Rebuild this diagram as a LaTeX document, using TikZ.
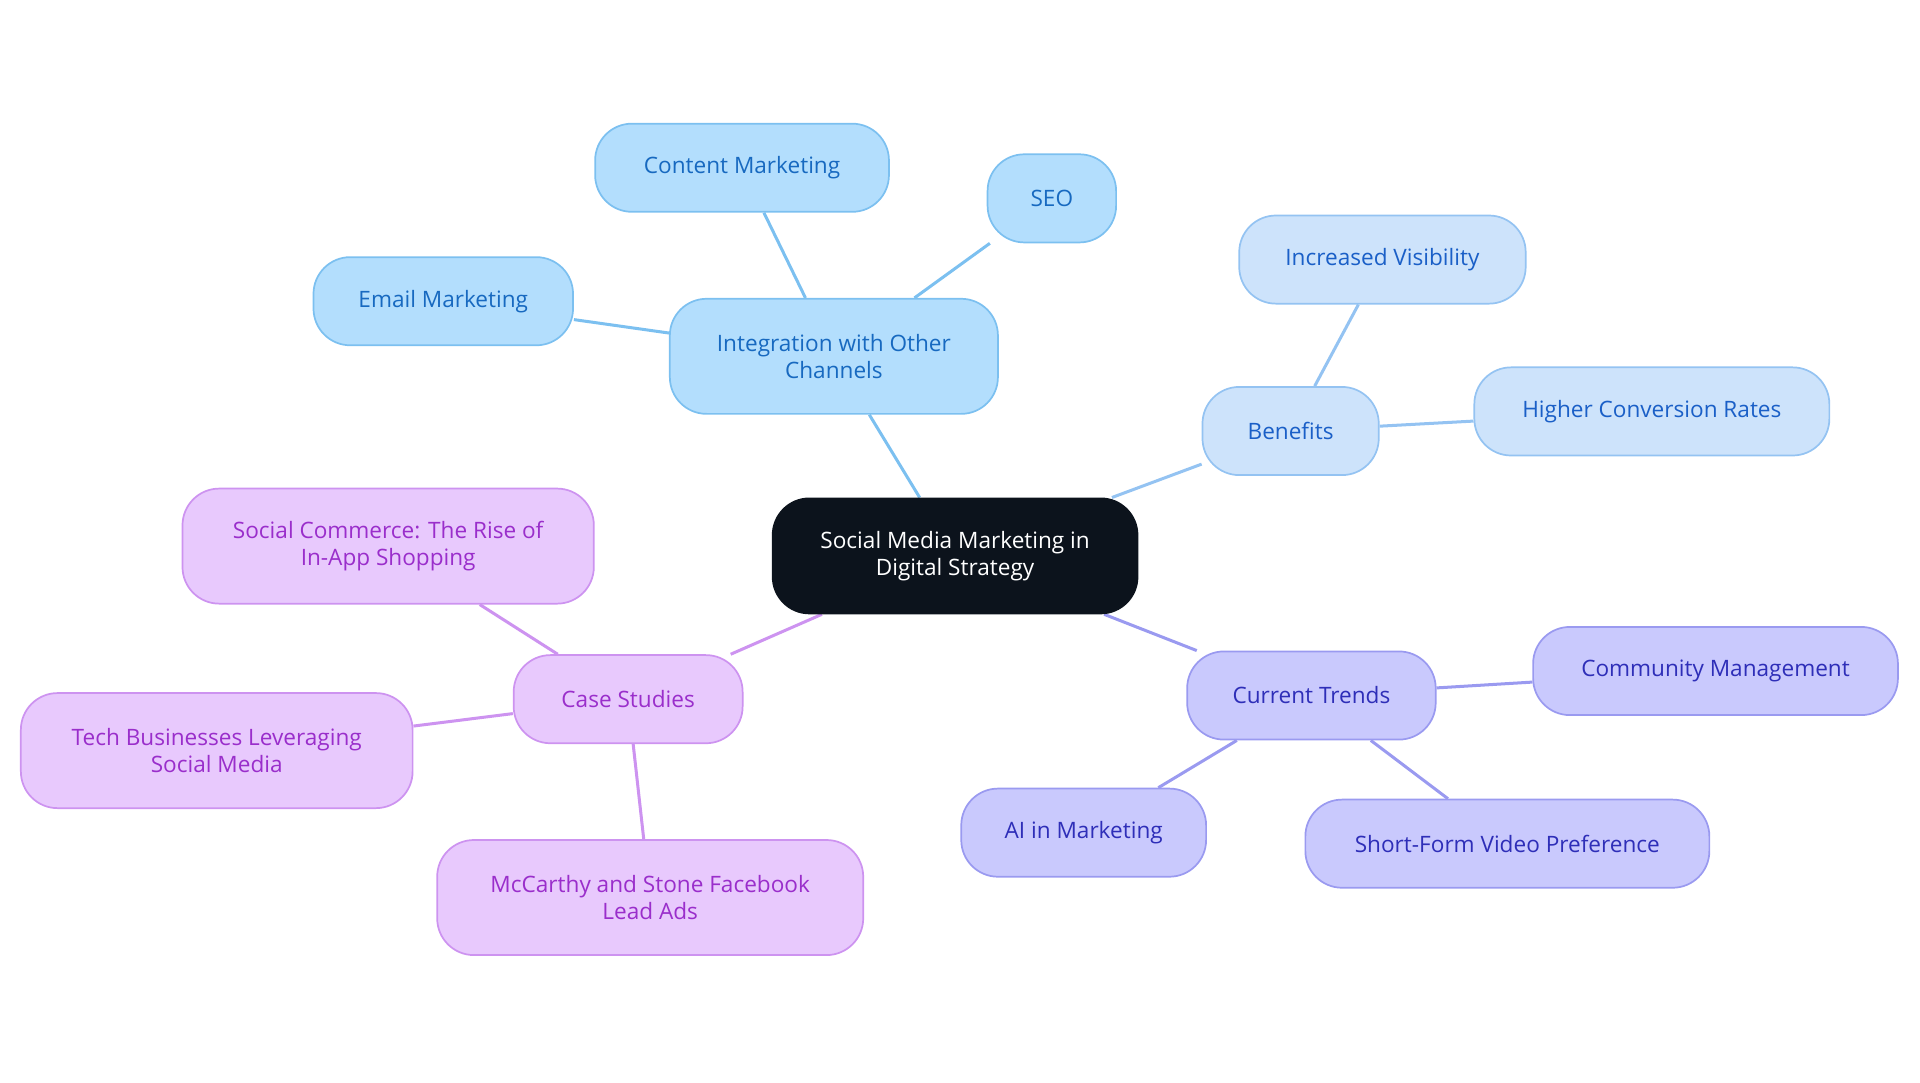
\documentclass[tikz,border=0pt]{standalone}
\usepackage{fontspec}
\setmainfont{Open Sans}
\usetikzlibrary{backgrounds}
\definecolor{centerfill}{HTML}{0C131C}
\definecolor{intfill}{HTML}{B3DEFD}\definecolor{intline}{HTML}{7CC0F0}\definecolor{inttext}{HTML}{1769C0}
\definecolor{benfill}{HTML}{CDE3FB}\definecolor{benline}{HTML}{94C3F2}\definecolor{bentext}{HTML}{1A5FC7}
\definecolor{trdfill}{HTML}{C9C9FD}\definecolor{trdline}{HTML}{9A9AF0}\definecolor{trdtext}{HTML}{2E2EB8}
\definecolor{casfill}{HTML}{E8C9FD}\definecolor{casline}{HTML}{CD93F0}\definecolor{castext}{HTML}{9A2ECB}
\tikzset{
  box/.style={rounded corners=0.6cm, draw, line width=0.8pt, align=center, minimum height=1.44cm,
    inner sep=2pt, font=\fontsize{10.5}{12.5}\selectfont},
  int/.style={box, fill=intfill, draw=intline, text=inttext},
  ben/.style={box, fill=benfill, draw=benline, text=bentext},
  trd/.style={box, fill=trdfill, draw=trdline, text=trdtext},
  cas/.style={box, fill=casfill, draw=casline, text=castext},
  tall/.style={minimum height=1.88cm},
  link/.style={line width=1.4pt}
}
\begin{document}
\begin{tikzpicture}[x=0.02cm, y=-0.02cm]
    \useasboundingbox (0,0) rectangle (1568,884);
    \node[box, tall, fill=centerfill, draw=centerfill, text=white, minimum width=5.96cm] (root) at (780,454) {Social Media Marketing in\\Digital Strategy};

    \node[int, tall, minimum width=5.36cm] (integ) at (681,291) {Integration with Other\\Channels};
    \node[int, minimum width=4.8cm] (content) at (606,137) {Content Marketing};
    \node[int, minimum width=2.1cm] (seo) at (859,162) {SEO};
    \node[int, minimum width=4.24cm] (email) at (362,246) {Email Marketing};

    \node[ben, minimum width=2.88cm] (benef) at (1054,352) {Benefits};
    \node[ben, minimum width=4.68cm] (visib) at (1129,212) {Increased Visibility};
    \node[ben, minimum width=5.8cm] (conv) at (1349,336) {Higher Conversion Rates};

    \node[trd, minimum width=4.06cm] (trends) at (1071,568) {Current Trends};
    \node[trd, minimum width=5.96cm] (commun) at (1401,548) {Community Management};
    \node[trd, minimum width=4cm] (ai) at (885,680) {AI in Marketing};
    \node[trd, minimum width=6.6cm] (video) at (1231,689) {Short-Form Video Preference};

    \node[cas, minimum width=3.74cm] (cases) at (513,571) {Case Studies};
    \node[cas, tall, minimum width=6.72cm] (commerce) at (317,446) {Social Commerce: The Rise of\\In-App Shopping};
    \node[cas, tall, minimum width=6.4cm] (tech) at (177,613) {Tech Businesses Leveraging\\Social Media};
    \node[cas, tall, minimum width=6.96cm] (mccarthy) at (531,733) {McCarthy and Stone Facebook\\Lead Ads};

    \begin{scope}[on background layer]
      \draw[link, intline] (root) -- (integ) (integ) -- (content) (integ) -- (seo) (integ) -- (email);
      \draw[link, benline] (root) -- (benef) (benef) -- (visib) (benef) -- (conv);
      \draw[link, trdline] (root) -- (trends) (trends) -- (commun) (trends) -- (ai) (trends) -- (video);
      \draw[link, casline] (root) -- (cases) (cases) -- (commerce) (cases) -- (tech) (cases) -- (mccarthy);
    \end{scope}
  \end{tikzpicture}
\end{document}
